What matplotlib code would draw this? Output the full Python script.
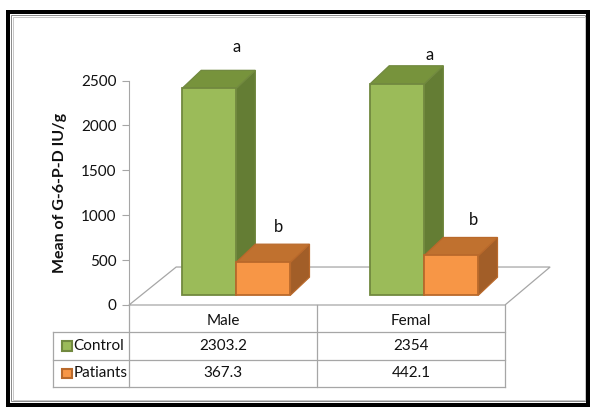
import matplotlib
matplotlib.use("Agg")
import matplotlib.pyplot as plt
from matplotlib.patches import Polygon, Rectangle
from matplotlib.lines import Line2D
from matplotlib.transforms import blended_transform_factory

plt.rcParams['font.family'] = ['Lato', 'DejaVu Sans']

# ---- data ----
categories = ["Male", "Femal"]
series_names = ["Control", "Patiants"]
control = [2303.2, 2354]
patients = [367.3, 442.1]
control_labels = ["2303.2", "2354"]
patient_labels = ["367.3", "442.1"]
sig_letters = [["a", "a"], ["b", "b"]]
yticks = [0, 500, 1000, 1500, 2000, 2500]

# ---- styling ----
W, H, DPI = 590, 407, 100
green = dict(front="#9BBB59", top="#77933C", side="#647D34", edge="#71893F")
orange = dict(front="#F79646", top="#C0712F", side="#A25E28", edge="#B9692B")
grid_col = "#A6A6A6"
font_sz = 11
text_col = "#111111"

fig = plt.figure(figsize=(W / DPI, H / DPI), dpi=DPI)
fig.patch.set_facecolor("white")

# plotting area: x from -0.5..1.5 (one unit per category), y 0..2500
ax = fig.add_axes([129 / W, 1 - 305 / H, (505 - 129) / W, (305 - 80.5) / H])
ax.set_xlim(-0.5, 1.5)
ax.set_ylim(0, 2500)
ax.set_facecolor("none")
for s in ("top", "right", "bottom"):
    ax.spines[s].set_visible(False)
ax.spines["left"].set_color(grid_col)
ax.spines["left"].set_linewidth(0.8)
ax.set_xticks([])
ax.set_yticks(yticks)
ax.tick_params(axis="y", length=5, width=0.8, color=grid_col, labelsize=font_sz,
               labelcolor=text_col, pad=4)
ax.set_ylabel("Mean of G-6-P-D IU/g", fontsize=11.5, fontweight="bold", labelpad=10,
              color=text_col)

# 3-D look: depth offsets in data units
dx, dy = 0.101, 200
base = 110
bar_w = 0.288
ctrl_off = -0.217

# floor
floor = Polygon([(-0.5, 0), (1.5, 0), (1.5 + 0.24, 423), (-0.5 + 0.251, 423)],
                closed=True, facecolor="white", edgecolor=grid_col, lw=0.9,
                clip_on=False, zorder=1)
ax.add_patch(floor)


def bar3d(x0, h, c):
    top = base + h
    ax.add_patch(Polygon([(x0 + bar_w, base), (x0 + bar_w + dx, base + dy),
                          (x0 + bar_w + dx, top + dy), (x0 + bar_w, top)],
                         closed=True, facecolor=c["side"], edgecolor=c["edge"],
                         lw=0.9, clip_on=False, zorder=3))
    ax.add_patch(Polygon([(x0, top), (x0 + bar_w, top), (x0 + bar_w + dx, top + dy),
                          (x0 + dx, top + dy)],
                         closed=True, facecolor=c["top"], edgecolor=c["edge"],
                         lw=0.9, clip_on=False, zorder=3))
    ax.add_patch(Rectangle((x0, base), bar_w, h, facecolor=c["front"],
                           edgecolor=c["edge"], lw=1.3, clip_on=False, zorder=3))


for i in range(len(categories)):
    bar3d(i + ctrl_off, control[i], green)
    bar3d(i + ctrl_off + bar_w, patients[i], orange)

# significance letters
letter_pos = [[(0.071, 2870), (1.10, 2785)], [(0.295, 870), (1.335, 950)]]
for r in range(2):
    for i in range(2):
        x, y = letter_pos[r][i]
        ax.text(x, y, sig_letters[r][i], ha="center", va="center",
                fontsize=12, color=text_col, clip_on=False)

# data table below the plot
tr = blended_transform_factory(ax.transData, ax.transAxes)
rows_y = [0, -0.1203, -0.245, -0.365]
left_x = -0.905


def seg(x0, y0, x1, y1):
    ax.add_line(Line2D([x0, x1], [y0, y1], transform=tr, color=grid_col,
                       lw=0.9, clip_on=False))


seg(-0.5, rows_y[0], -0.5, rows_y[3])
seg(0.5, rows_y[0], 0.5, rows_y[3])
seg(1.5, rows_y[0], 1.5, rows_y[3])
seg(left_x, rows_y[1], left_x, rows_y[3])
for y in rows_y[1:]:
    seg(left_x, y, 1.5, y)

for i, name in enumerate(categories):
    ax.text(i, (rows_y[0] + rows_y[1]) / 2 - 0.012, name, transform=tr, ha="center",
            va="center", fontsize=font_sz, color=text_col)
    ax.text(i, (rows_y[1] + rows_y[2]) / 2, control_labels[i], transform=tr,
            ha="center", va="center", fontsize=font_sz, color=text_col)
    ax.text(i, (rows_y[2] + rows_y[3]) / 2, patient_labels[i], transform=tr,
            ha="center", va="center", fontsize=font_sz, color=text_col)

for r, (name, c) in enumerate(zip(series_names, [green, orange])):
    yc = (rows_y[r + 1] + rows_y[r + 2]) / 2
    ax.add_patch(Rectangle((-0.857, yc - 0.022), 0.052, 0.044, transform=tr,
                           facecolor=c["front"], edgecolor=c["edge"], lw=1.5,
                           clip_on=False))
    ax.text(-0.795, yc, name, transform=tr, ha="left", va="center",
            fontsize=font_sz, color=text_col)

# outer frame (black band with thin grey inner lines)
def frame_rect(x0, y0, x1, y1, color, lw):
    fig.add_artist(Rectangle((x0 / W, 1 - y1 / H), (x1 - x0) / W, (y1 - y0) / H,
                             transform=fig.transFigure, fill=False,
                             edgecolor=color, lw=lw * 72 / DPI))

frame_rect(8, 12, 588, 404.5, "black", 4)
frame_rect(11, 14.8, 585.3, 401, "#8c8c8c", 1.0)
frame_rect(12.8, 16.5, 584.5, 400, "#c8c8c8", 1.0)

fig.savefig("out.png", dpi=DPI, facecolor="white")
